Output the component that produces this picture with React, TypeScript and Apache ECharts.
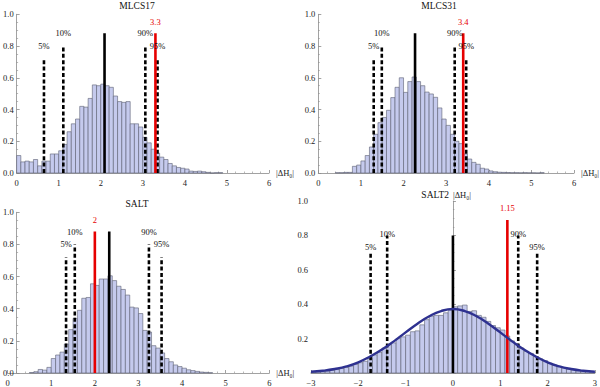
import React, { useEffect, useRef } from "react";
import * as echarts from "echarts";

const BIN = 0.1;
const FONT = "'Liberation Serif', 'DejaVu Serif', serif";

// ---- MLCS17 ----
const mlcs17Start = 0.0;
const mlcs17Heights = [
  0.11, 0.07, 0.075, 0.07, 0.085, 0.045, 0.075, 0.075, 0.12, 0.12,
  0.14, 0.18, 0.26, 0.31, 0.34, 0.42, 0.415, 0.47, 0.555, 0.55,
  0.56, 0.55, 0.54, 0.485, 0.45, 0.445, 0.45, 0.31, 0.31, 0.29,
  0.225, 0.19, 0.15, 0.125, 0.1, 0.085, 0.06, 0.045, 0.035, 0.03,
  0.025, 0.012, 0.01, 0.012, 0.008, 0.004, 0, 0.002, 0.002,
];
const mlcs17PctX = [0.65, 1.11, 3.06, 3.35];
const mlcs17MeanX = 2.09;
const mlcs17ObsX = 3.3;
const mlcs17ObsLabel = "3.3";

// ---- MLCS31 ----
const mlcs31Start = 0.4;
const mlcs31Heights = [
  0.002, 0.002, 0.004, 0.004, 0.042, 0.05, 0.076, 0.11, 0.164, 0.244,
  0.317, 0.35, 0.395, 0.475, 0.54, 0.6, 0.508, 0.576, 0.605, 0.576,
  0.55, 0.51, 0.498, 0.477, 0.41, 0.34, 0.3, 0.244, 0.2, 0.185,
  0.12, 0.088, 0.067, 0.055, 0.03, 0.025, 0.013, 0.008, 0.005, 0.004,
  0.003, 0.002, 0.002, 0.001, 0.002, 0.001, 0.001, 0, 0.002,
];
const mlcs31PctX = [1.3, 1.49, 3.2, 3.47];
const mlcs31MeanX = 2.27;
const mlcs31ObsX = 3.4;
const mlcs31ObsLabel = "3.4";

// ---- SALT ----
const saltStart = 0.5;
const saltHeights = [
  0.003, 0.008, 0.022, 0.018, 0.035, 0.09, 0.112, 0.13, 0.18, 0.27,
  0.34, 0.39, 0.465, 0.47, 0.555, 0.545, 0.585, 0.585, 0.605, 0.575,
  0.54, 0.52, 0.485, 0.41, 0.405, 0.37, 0.265, 0.255, 0.17, 0.155,
  0.125, 0.09, 0.07, 0.05, 0.04, 0.03, 0.02, 0.015, 0.01, 0.006,
  0.004, 0.002,
];
const saltPctX = [1.34, 1.54, 3.24, 3.53];
const saltMeanX = 2.33;
const saltObsX = 2.0;
const saltObsLabel = "2";

// ---- SALT2 ----
const salt2Start = -3.0;
const salt2Heights = [
  0.004, 0.006, 0.008, 0.012, 0.015, 0.02, 0.026, 0.032, 0.04, 0.05,
  0.06, 0.068, 0.085, 0.105, 0.12, 0.145, 0.165, 0.175, 0.2, 0.21,
  0.22, 0.24, 0.245, 0.28, 0.31, 0.33, 0.335, 0.335, 0.35, 0.365,
  0.385, 0.39, 0.395, 0.358, 0.362, 0.335, 0.324, 0.3, 0.276, 0.263,
  0.25, 0.215, 0.187, 0.168, 0.145, 0.126, 0.114, 0.095, 0.082, 0.072,
  0.057, 0.046, 0.038, 0.03, 0.023, 0.017, 0.013, 0.01, 0.008, 0.006,
];
const salt2CurveX = [-3, -2.75, -2.5, -2.25, -2, -1.75, -1.5, -1.25, -1, -0.75, -0.5, -0.25, 0,
  0.25, 0.5, 0.75, 1, 1.25, 1.5, 1.75, 2, 2.25, 2.5, 2.75, 3];
const salt2CurveY = [0.007, 0.013, 0.023, 0.038, 0.062, 0.096, 0.136, 0.184, 0.236, 0.287, 0.33, 0.36, 0.372,
  0.36, 0.33, 0.287, 0.236, 0.184, 0.136, 0.096, 0.062, 0.038, 0.023, 0.013, 0.007];
const salt2PctX = [-1.74, -1.39, 1.38, 1.78];
const salt2MeanX = 0.0;
const salt2ObsX = 1.15;
const salt2ObsLabel = "1.15";

const pctLabels = ["5%", "10%", "90%", "95%"];
const pctTops = [0.72, 0.8, 0.8, 0.72];
const pctLabelY = [0.8, 0.88, 0.88, 0.8];
const meanTop = 0.88;
const obsTop = 0.88;
const obsLabelY = 0.95;
const salt2PctTops = [0.7, 0.8, 0.8, 0.7];
const salt2PctLabelY = [0.73, 0.81, 0.81, 0.73];
const salt2MeanTop = 0.8;
const salt2ObsTop = 0.89;
const salt2ObsLabelY = 0.96;

const titles = ["MLCS17", "MLCS31", "SALT", "SALT2"];
const axisName = "|ΔH\u2080|";

const AXIS_COLOR = "#8a8a8a";
const BAR_FILL = "#c5caed";
const BAR_EDGE = "#5d6072";
const RED = "#e60000";
const TEXT = "#111111";

function histSeries(idx: number, start: number, heights: number[]) {
  return {
    type: "custom",
    xAxisIndex: idx,
    yAxisIndex: idx,
    z: 1,
    silent: true,
    data: heights.map((h, i) => [start + i * BIN, start + (i + 1) * BIN, h]),
    encode: { x: [0, 1], y: 2 },
    renderItem: (_p: any, api: any) => {
      const p0 = api.coord([api.value(0), api.value(2)]);
      const p1 = api.coord([api.value(1), 0]);
      return {
        type: "rect",
        shape: { x: p0[0], y: p0[1], width: p1[0] - p0[0], height: p1[1] - p0[1] },
        style: { fill: BAR_FILL, stroke: BAR_EDGE, lineWidth: 0.6 },
      };
    },
  };
}

function vline(idx: number, x: number, top: number, color: string, dashed: boolean) {
  return {
    type: "line",
    xAxisIndex: idx,
    yAxisIndex: idx,
    z: 4,
    silent: true,
    symbol: "none",
    data: [[x, 0], [x, top]],
    lineStyle: { color, width: 2.6, type: dashed ? [4, 2.4] : "solid" },
  };
}

function labelSeries(idx: number, items: { x: number; y: number; text: string; color: string }[]) {
  return {
    type: "custom",
    xAxisIndex: idx,
    yAxisIndex: idx,
    z: 6,
    silent: true,
    data: items.map((it) => [it.x, it.y]),
    encode: { x: 0, y: 1 },
    renderItem: (p: any, api: any) => {
      const it = items[p.dataIndex];
      const c = api.coord([api.value(0), api.value(1)]);
      return {
        type: "text",
        x: c[0],
        y: c[1],
        style: {
          text: it.text,
          fill: it.color,
          font: `8.5px ${FONT}`,
          align: "center",
          verticalAlign: "middle",
        },
      };
    },
  };
}

function panelSeries(
  idx: number,
  start: number,
  heights: number[],
  pctX: number[],
  meanX: number,
  obsX: number,
  obsLabel: string,
  tops: number[],
  labelY: number[],
  mTop: number,
  oTop: number,
  oLabelY: number
) {
  const s: any[] = [histSeries(idx, start, heights)];
  pctX.forEach((x, i) => s.push(vline(idx, x, tops[i], "#000", true)));
  s.push(vline(idx, meanX, mTop, "#000", false));
  s.push(vline(idx, obsX, oTop, RED, false));
  const items = pctX.map((x, i) => ({ x, y: labelY[i], text: pctLabels[i], color: TEXT }));
  items.push({ x: obsX, y: oLabelY, text: obsLabel, color: RED });
  s.push(labelSeries(idx, items));
  return s;
}

function xAxisCfg(idx: number, min: number, max: number, withName: boolean) {
  return {
    type: "value",
    gridIndex: idx,
    min,
    max,
    interval: 1,
    axisLine: { show: true, onZero: false, lineStyle: { color: AXIS_COLOR, width: 0.8 } },
    axisTick: { show: true, inside: true, length: 3, lineStyle: { color: AXIS_COLOR, width: 0.8 } },
    minorTick: { show: true, splitNumber: 5, length: 1.5, lineStyle: { color: AXIS_COLOR, width: 0.6 } },
    splitLine: { show: false },
    axisLabel: {
      fontFamily: FONT,
      fontSize: 8.5,
      color: "#222",
      margin: 5,
      formatter: (v: number) => String(v).replace("-", "\u2212"),
    },
    name: withName ? axisName : "",
    nameLocation: "end",
    nameGap: 7,
    nameTextStyle: { fontFamily: FONT, fontSize: 8.5, color: "#222", verticalAlign: "middle" },
  };
}

function yAxisCfg(idx: number, onZero: boolean, hideZero: boolean, name: string) {
  return {
    type: "value",
    gridIndex: idx,
    min: 0,
    max: 1,
    interval: 0.2,
    axisLine: { show: true, onZero, lineStyle: { color: AXIS_COLOR, width: 0.8 } },
    axisTick: { show: true, inside: true, length: 3, lineStyle: { color: AXIS_COLOR, width: 0.8 } },
    minorTick: { show: true, splitNumber: 4, length: 1.5, lineStyle: { color: AXIS_COLOR, width: 0.6 } },
    splitLine: { show: false },
    axisLabel: {
      fontFamily: FONT,
      fontSize: 8.5,
      color: "#222",
      margin: 3,
      formatter: (v: number) => (hideZero && v === 0 ? "" : v.toFixed(1)),
    },
    name,
    nameLocation: "end",
    nameGap: 2,
    nameTextStyle: { fontFamily: FONT, fontSize: 8.5, color: "#222", align: "left" },
  };
}

export default function App() {
  const ref = useRef<HTMLDivElement>(null);
  useEffect(() => {
    if (!ref.current) return;
    const chart = echarts.init(ref.current, undefined, { renderer: "svg" });
    const titleText = (text: string, x: number, y: number, align: string) => ({
      type: "text",
      x,
      y,
      silent: true,
      style: {
        text,
        fill: TEXT,
        font: `9.5px ${FONT}`,
        align,
        verticalAlign: "middle",
      },
    });
    const option: any = {
      animation: false,
      backgroundColor: "#fff",
      graphic: [
        titleText(titles[0], 137, 6, "center"),
        titleText(titles[1], 439, 6, "center"),
        titleText(titles[2], 137, 204, "center"),
        titleText(titles[3], 449, 195, "right"),
      ],
      grid: [
        { left: 12.3, top: 14.3, width: 256.7, height: 158.7 },
        { left: 318.3, top: 14.3, width: 257, height: 158.7 },
        { left: 3.4, top: 212.3, width: 265.9, height: 163.7 },
        { left: 311, top: 201, width: 284, height: 175 },
      ],
      xAxis: [
        xAxisCfg(0, 0, 6, true),
        xAxisCfg(1, 0, 6, true),
        xAxisCfg(2, 0, 6, true),
        xAxisCfg(3, -3, 3, false),
      ],
      yAxis: [
        yAxisCfg(0, false, false, ""),
        yAxisCfg(1, false, false, ""),
        { ...yAxisCfg(2, false, false, ""), offset: -9 },
        yAxisCfg(3, true, true, axisName),
      ],
      series: [
        ...panelSeries(0, mlcs17Start, mlcs17Heights, mlcs17PctX, mlcs17MeanX, mlcs17ObsX, mlcs17ObsLabel,
          pctTops, pctLabelY, meanTop, obsTop, obsLabelY),
        ...panelSeries(1, mlcs31Start, mlcs31Heights, mlcs31PctX, mlcs31MeanX, mlcs31ObsX, mlcs31ObsLabel,
          pctTops, pctLabelY, meanTop, obsTop, obsLabelY),
        ...panelSeries(2, saltStart, saltHeights, saltPctX, saltMeanX, saltObsX, saltObsLabel,
          pctTops, pctLabelY, meanTop, obsTop, obsLabelY),
        ...panelSeries(3, salt2Start, salt2Heights, salt2PctX, salt2MeanX, salt2ObsX, salt2ObsLabel,
          salt2PctTops, salt2PctLabelY, salt2MeanTop, salt2ObsTop, salt2ObsLabelY),
        {
          type: "line",
          xAxisIndex: 3,
          yAxisIndex: 3,
          z: 5,
          silent: true,
          symbol: "none",
          smooth: true,
          data: salt2CurveX.map((x, i) => [x, salt2CurveY[i]]),
          lineStyle: { color: "#2e3190", width: 2.4 },
        },
      ],
    };
    chart.setOption(option);
    return () => chart.dispose();
  }, []);
  return (
    <div
      ref={ref}
      style={{ position: "fixed", left: 0, top: 0, width: 600, height: 387, background: "#fff" }}
    />
  );
}
